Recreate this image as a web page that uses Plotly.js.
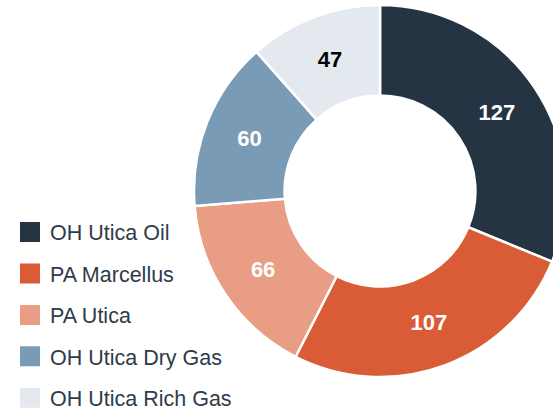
<!DOCTYPE html>
<html>
<head>
<meta charset="utf-8">
<script src="https://cdn.plot.ly/plotly-3.0.1.min.js"></script>
<style>
html,body{margin:0;padding:0;overflow:hidden;background:#fff;width:553px;height:412px;}
#chart{width:600px;height:460px;}
</style>
</head>
<body>
<div id="chart"></div>
<script>
const categories = ["OH Utica Oil", "PA Marcellus", "PA Utica", "OH Utica Dry Gas", "OH Utica Rich Gas"];
const values = [127, 107, 66, 60, 47];
const colors = ["#243442", "#d95c36", "#e89d84", "#7a9bb5", "#e4e9f0"];
const labelColors = ["#ffffff", "#ffffff", "#ffffff", "#ffffff", "#000000"];

const W = 600, H = 460;
const cx = 380, cy = 191, R = 186;

const pie = {
  type: "pie",
  labels: categories,
  values: values,
  sort: false,
  direction: "clockwise",
  rotation: 0,
  hole: 0.513,
  marker: {colors: colors, line: {color: "#ffffff", width: 2.5}},
  texttemplate: "%{value}",
  textposition: "inside",
  insidetextorientation: "horizontal",
  textfont: {family: "Liberation Sans, Arial, sans-serif", size: 22, weight: "bold", color: labelColors},
  showlegend: false,
  hoverinfo: "label+value",
  domain: {x: [(cx - R) / W, (cx + R) / W], y: [1 - (cy + R) / H, 1 - (cy - R) / H]}
};

const legendTraces = categories.map((c, i) => ({
  type: "scatter",
  mode: "markers",
  x: [null], y: [null],
  name: c,
  legendgroup: "g" + i,
  marker: {symbol: "square", size: 16, color: colors[i], line: {color: colors[i], width: 4}},
  showlegend: true,
  hoverinfo: "skip"
}));

const layout = {
  width: W, height: H,
  margin: {l: 0, r: 0, t: 0, b: 0},
  paper_bgcolor: "#ffffff",
  plot_bgcolor: "#ffffff",
  xaxis: {visible: false},
  yaxis: {visible: false},
  showlegend: true,
  legend: {
    x: 10 / W, y: 1 - 211.5 / H, xanchor: "left", yanchor: "top",
    font: {family: "Liberation Sans, Arial, sans-serif", size: 21.5, color: "#2f3b4a"},
    tracegroupgap: 10.5,
    bgcolor: "rgba(0,0,0,0)",
    itemclick: false, itemdoubleclick: false
  }
};

Plotly.newPlot("chart", [pie].concat(legendTraces), layout, {displayModeBar: false, staticPlot: true});
</script>
</body>
</html>
